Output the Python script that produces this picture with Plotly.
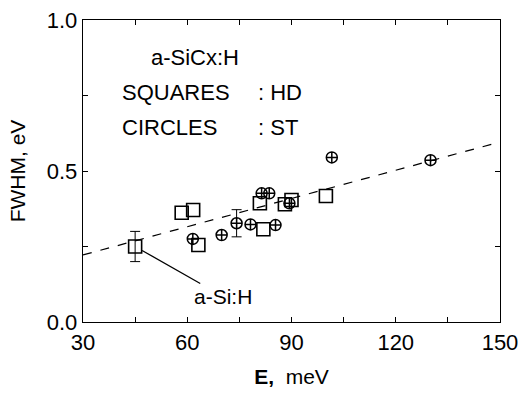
import plotly.graph_objects as go

# Squares : HD samples
hd_e = [45, 58.4, 61.7, 63.2, 80.9, 81.9, 88.1, 90.0, 99.9]
hd_fwhm = [0.25, 0.362, 0.371, 0.255, 0.393, 0.307, 0.39, 0.404, 0.417]
hd_err = [0.05, 0, 0, 0, 0, 0, 0, 0, 0]

# Circles : ST samples
st_e = [61.6, 69.9, 74.2, 78.2, 81.4, 83.6, 85.4, 89.4, 101.6, 130]
st_fwhm = [0.275, 0.288, 0.327, 0.323, 0.426, 0.426, 0.321, 0.393, 0.545, 0.536]
st_err = [0, 0, 0.045, 0, 0, 0, 0, 0, 0, 0]

# Linear fit (dashed)
fit_e = [30, 150]
fit_fwhm = [0.222, 0.596]

FONT = "Liberation Sans, Arial, sans-serif"


def with_err(xs, ys, es):
    sel = [i for i, e in enumerate(es) if e > 0]
    return [xs[i] for i in sel], [ys[i] for i in sel], [es[i] for i in sel]


fig = go.Figure()
fig.add_trace(go.Scatter(x=fit_e, y=fit_fwhm, mode="lines",
                         line=dict(color="black", width=1.2, dash="dash"),
                         showlegend=False, hoverinfo="skip"))

for xs, ys, es in (with_err(st_e, st_fwhm, st_err), with_err(hd_e, hd_fwhm, hd_err)):
    fig.add_trace(go.Scatter(x=xs, y=ys, mode="markers",
                             marker=dict(size=1, color="rgba(0,0,0,0)"),
                             error_y=dict(type="data", array=es, visible=True,
                                          color="black", thickness=1, width=5),
                             showlegend=False, hoverinfo="skip"))

fig.add_trace(go.Scatter(x=st_e, y=st_fwhm, mode="markers",
                         marker=dict(symbol="circle-cross-open", size=11, color="black",
                                     line=dict(width=1.5, color="black")),
                         showlegend=False))
fig.add_trace(go.Scatter(x=hd_e, y=hd_fwhm, mode="markers",
                         marker=dict(symbol="square-open", size=13, color="black",
                                     line=dict(width=1.6, color="black")),
                         showlegend=False))

fig.update_layout(
    width=522, height=397,
    margin=dict(l=83, r=22, t=20, b=75),
    plot_bgcolor="white", paper_bgcolor="white",
    font=dict(family=FONT, color="black", size=22),
    xaxis=dict(range=[30, 150], tickvals=[30, 60, 90, 120, 150],
               ticks="inside", ticklen=5, tickcolor="black",
               minor=dict(dtick=15, tick0=30, ticks="inside", ticklen=5, tickcolor="black"),
               showline=True, linecolor="black", linewidth=1.3, mirror="ticks",
               showgrid=False, zeroline=False, automargin=False,
               tickfont=dict(size=22),
               title=dict(text="<b>E,</b>  meV", font=dict(size=21))),
    yaxis=dict(range=[0, 1.0], tickvals=[0.0, 0.5, 1.0], ticktext=["0.0", "0.5", "1.0"],
               ticks="inside", ticklen=5, tickcolor="black",
               minor=dict(dtick=0.25, tick0=0, ticks="inside", ticklen=5, tickcolor="black"),
               showline=True, linecolor="black", linewidth=1.3, mirror="ticks",
               showgrid=False, zeroline=False, automargin=False,
               tickfont=dict(size=22),
               title=dict(text="FWHM, eV", font=dict(size=21))),
)


def txt(s, x, y, xanchor="left", size=22):
    fig.add_annotation(text=s, x=x, y=y, xref="paper", yref="paper",
                       xanchor=xanchor, yanchor="middle", showarrow=False,
                       borderpad=0,
                       font=dict(size=size, family=FONT, color="black"))


W, H = 417.0, 302.0
txt("a-SiCx:H", (195 - 83) / W, (322 - 58) / H, xanchor="center")
txt("SQUARES", (121 - 83) / W, (322 - 92) / H)
txt(": HD", (257 - 83) / W, (322 - 92) / H)
txt("CIRCLES", (121 - 83) / W, (322 - 127) / H)
txt(": ST", (257 - 83) / W, (322 - 127) / H)

fig.add_annotation(text="a-Si:H", x=hd_e[0], y=hd_fwhm[0], xref="x", yref="y",
                   ax=88, ay=50, showarrow=True, arrowhead=0, arrowwidth=1.3,
                   arrowcolor="black", standoff=8,
                   font=dict(size=21, family=FONT, color="black"))

fig.write_html("out.html", config={"displayModeBar": False, "staticPlot": True},
               post_script="document.body.style.margin='0';document.body.style.overflow='hidden';")
